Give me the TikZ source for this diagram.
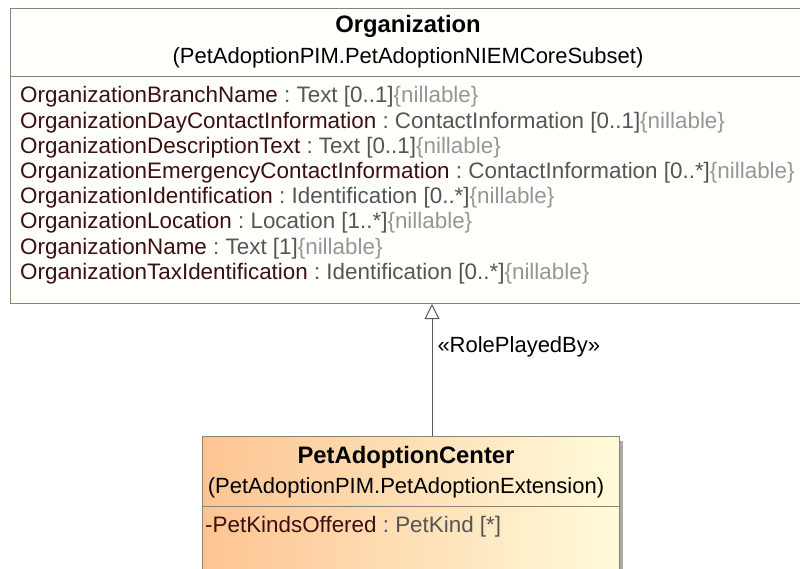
\documentclass[tikz,border=0pt]{standalone}
\usepackage{fontspec}
\setmainfont{Liberation Sans}
\usetikzlibrary{arrows.meta}
\definecolor{boxline}{RGB}{140,132,115}
\definecolor{namec}{RGB}{58,16,16}
\definecolor{typec}{RGB}{85,85,85}
\definecolor{nilc}{RGB}{150,150,150}
\definecolor{orgfill}{RGB}{255,255,252}
\definecolor{pacleft}{RGB}{253,196,146}
\definecolor{pacright}{RGB}{255,251,218}
\definecolor{shadowc}{RGB}{170,170,170}
\definecolor{edgec}{RGB}{90,90,90}
\tikzset{
  x=1pt,y=1pt,
  umltext/.style={inner sep=0pt,font=\fontsize{22}{25}\selectfont},
  attr/.style={umltext,anchor=base west,font=\fontsize{22.4}{25}\selectfont},
  ttl/.style={umltext,anchor=base,font=\fontsize{23.8}{25}\selectfont\bfseries},
  sub/.style={umltext,anchor=base},
  boxframe/.style={draw=boxline,line width=1pt,inner sep=0pt,anchor=north west},
  sepline/.style={draw=boxline,line width=1pt},
  gen/.style={draw=edgec,line width=1pt,-{Triangle[open,length=15pt,width=15pt,fill=white]}},
}
\newcommand{\attrline}[3]{\textcolor{namec}{#1}\textcolor{typec}{\ :\ #2}\textcolor{nilc}{#3}}
\begin{document}
\begin{tikzpicture}
\useasboundingbox (0,0) rectangle (800,-569);
\fill[white] (0,0) rectangle (800,-569);
% Organization class
\node[boxframe,fill=orgfill,minimum width=796pt,minimum height=295pt] (org) at (10,-8) {};
\draw[sepline] (10,-77) -- (806,-77);
\node[ttl] (orgname) at (408,-33) {Organization};
\node[sub] (orgpkg) at (408,-64) {(PetAdoptionPIM.PetAdoptionNIEMCoreSubset)};
\node[attr] (a1) at (20,-103) {\attrline{OrganizationBranchName}{Text [0..1]}{\{nillable\}}};
\node[attr] (a2) at (20,-128.2) {\attrline{OrganizationDayContactInformation}{ContactInformation [0..1]}{\{nillable\}}};
\node[attr] (a3) at (20,-153.4) {\attrline{OrganizationDescriptionText}{Text [0..1]}{\{nillable\}}};
\node[attr] (a4) at (20,-178.6) {\attrline{OrganizationEmergencyContactInformation}{ContactInformation [0..*]}{\{nillable\}}};
\node[attr] (a5) at (20,-203.8) {\attrline{OrganizationIdentification}{Identification [0..*]}{\{nillable\}}};
\node[attr] (a6) at (20,-229) {\attrline{OrganizationLocation}{Location [1..*]}{\{nillable\}}};
\node[attr] (a7) at (20,-254.2) {\attrline{OrganizationName}{Text [1]}{\{nillable\}}};
\node[attr] (a8) at (20,-279.4) {\attrline{OrganizationTaxIdentification}{Identification [0..*]}{\{nillable\}}};
% PetAdoptionCenter class
\fill[shadowc] (206,-441) rectangle (623,-600);
\node[boxframe,left color=pacleft,right color=pacright,minimum width=417pt,minimum height=160pt] (pac) at (202,-436) {};
\draw[sepline] (202,-506) -- (619,-506);
\node[ttl] (pacname) at (406,-463) {PetAdoptionCenter};
\node[sub] (pacpkg) at (406,-493) {(PetAdoptionPIM.PetAdoptionExtension)};
\node[attr] (p1) at (205,-532) {\textcolor{namec}{-PetKindsOffered}\textcolor{typec}{\ :\ PetKind [*]}};
% generalization
\coordinate (ax) at (432,0);
\draw[gen] (pac.north -| ax) -- node[umltext,anchor=base west,pos=0.63,xshift=5pt] (rel) {«RolePlayedBy»} (org.south -| ax);
\end{tikzpicture}
\end{document}
